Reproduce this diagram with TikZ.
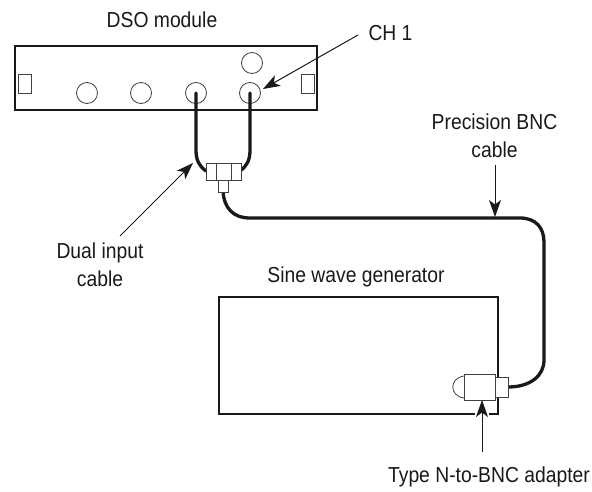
\documentclass[tikz,border=0pt]{standalone}
\usepackage{fontspec}
\setmainfont{Liberation Sans}
\usetikzlibrary{arrows.meta}
\tikzset{
 lbl/.style={inner sep=0pt,align=center,text=black!90,xscale=0.89,font=\fontsize{21.7}{28}\selectfont},
 panel/.style={draw=black!90,line width=2pt},
 thin part/.style={draw=black!75,line width=0.8pt,fill=white},
 cable/.style={draw=black!90,line width=3.3pt,line cap=round},
 pointer/.style={draw=black!90,line width=1pt,-{Stealth[length=17pt,width=12pt,inset=4.5pt]}}
}
\begin{document}
\begin{tikzpicture}[x=1pt,y=-1pt]
\useasboundingbox (0,0) rectangle (592,492);
% DSO module
\node[panel,draw,minimum width=302pt,minimum height=64pt,inner sep=0pt,anchor=north west] (dso) at (14,45) {};
\node[thin part,draw,minimum width=13pt,minimum height=19pt,inner sep=0pt] (slotL) at (25,83.5) {};
\node[thin part,draw,minimum width=13pt,minimum height=19pt,inner sep=0pt] (slotR) at (308,83.5) {};
\foreach \n/\x/\y in {c1/87/93,c2/141/93,c3/196/93,c4/250/93,c5/252/63}
  \node[thin part,draw,circle,minimum size=21pt,inner sep=0pt] (\n) at (\x,\y) {};
% Generator
\node[panel,draw,minimum width=279pt,minimum height=117pt,inner sep=0pt,anchor=north west] (gen) at (218,296) {};
% Cables
\draw[cable] (c3.center) -- (196,150) .. controls (196,160) and (199,166) .. (206,171);
\draw[cable] (c4.center) -- (250,150) .. controls (250,160) and (247,166) .. (240,171);
\draw[cable,line cap=butt] (223,191) .. controls (224,208) and (233,218) .. (250,218) -- (520,218) .. controls (536,218) and (544,228) .. (544,242) -- (544,360) .. controls (544,376) and (530,387) .. (508,387);
% Y connector
\node[thin part,draw,minimum width=10pt,minimum height=12pt,inner sep=0pt] (stub) at (223,186) {};
\node[thin part,draw,minimum width=10pt,minimum height=17pt,inner sep=0pt] (ya) at (211,171.5) {};
\node[thin part,draw,minimum width=15pt,minimum height=17pt,inner sep=0pt] (yb) at (223.5,171.5) {};
\node[thin part,draw,minimum width=10pt,minimum height=17pt,inner sep=0pt] (yc) at (236,171.5) {};
% Adapter
\draw[thin part,fill=none] (464,376) .. controls (449,378) and (449,396) .. (464,398);
\node[thin part,draw,minimum width=31pt,minimum height=26pt,inner sep=0pt] (body) at (479.5,387) {};
\node[thin part,draw,minimum width=13pt,minimum height=20pt,inner sep=0pt] (tip) at (501.5,387) {};
% Labels
\node[lbl] (tdso) at (162,20) {DSO module};
\node[lbl] (tch) at (390.5,33.5) {CH 1};
\node[lbl] (tprec) at (494.5,136) {Precision BNC\\cable};
\node[lbl] (tdual) at (100,265) {Dual input\\cable};
\node[lbl] (tsine) at (356,277) {Sine wave generator};
\node[lbl] (ttype) at (489,477) {Type N-to-BNC adapter};
% Pointers
\coordinate (a1) at (358,35); \coordinate (a1t) at (263,89);
\coordinate (a2) at (120,236); \coordinate (a2t) at (193,163);
\coordinate (a3) at (495,165); \coordinate (a3t) at (495,217);
\coordinate (a4) at (482,452); \coordinate (a4t) at (482,400);
\draw[pointer] (a1) -- (a1t);
\draw[pointer] (a2) -- (a2t);
\draw[pointer] (a3) -- (a3t);
\draw[white,line width=3.5pt] (475,413) -- (489,413);
\draw[pointer] (a4) -- (a4t);
\end{tikzpicture}
\end{document}
